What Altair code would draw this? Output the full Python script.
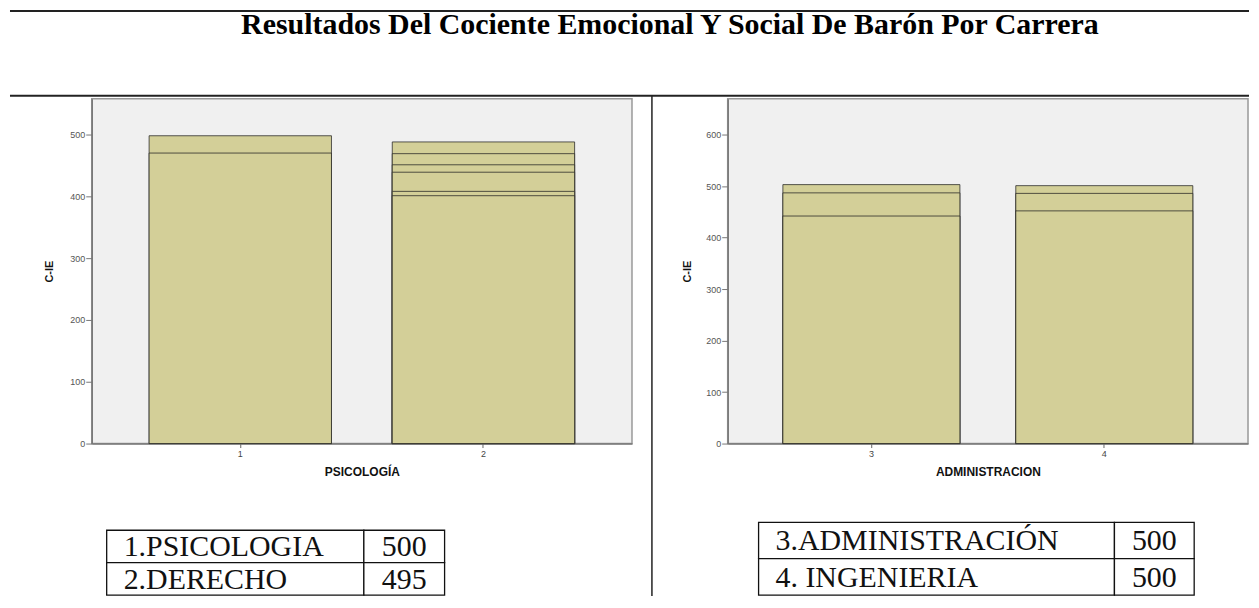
import altair as alt
import pandas as pd

# ---------------- data ----------------
titulo = "Resultados Del Cociente Emocional Y Social De Barón Por Carrera"
eje_y = "C-IE"

carreras_izq = ["1", "2"]
valores_izq = [[498, 470], [488, 469, 451, 439, 408, 401]]
titulo_x_izq = "PSICOLOGÍA"
ticks_izq = [0, 100, 200, 300, 400, 500]

carreras_der = ["3", "4"]
valores_der = [[503, 487, 442], [501, 486, 452]]
titulo_x_der = "ADMINISTRACION"
ticks_der = [0, 100, 200, 300, 400, 500, 600]

tabla_izq_nombres = ["1.PSICOLOGIA", "2.DERECHO"]
tabla_izq_valores = ["500", "495"]
tabla_der_nombres = ["3.ADMINISTRACIÓN", "4. INGENIERIA"]
tabla_der_valores = ["500", "500"]

# ---------------- style ----------------
FILL = "#d3cf98"
BG = "#f0f0f0"
SANS = "Liberation Sans"
SERIF = "Liberation Serif"
H = 346
W_IZQ = 542
W_DER = 522
TABLE_H = 81


def barras(cats, vals, dom, ticks, xtitle, width, title_x, pad_inner, pad_outer):
    rows = []
    for c, vs in zip(cats, vals):
        for v in sorted(vs, reverse=True):
            rows.append({"carrera": c, "cie": v})
    df = pd.DataFrame(rows)
    return alt.Chart(df).mark_bar(
        fill=FILL, stroke="#222", strokeOpacity=0.75, strokeWidth=1
    ).encode(
        x=alt.X(
            "carrera:N",
            sort=cats,
            scale=alt.Scale(paddingInner=pad_inner, paddingOuter=pad_outer),
            axis=alt.Axis(
                title=xtitle, labelAngle=0, labelFontSize=9, labelColor="#444",
                labelFont=SANS, tickSize=4, tickColor="#666", labelPadding=2,
                domainColor="#777", domainWidth=1.5,
                titleFont=SANS, titleFontSize=12, titleFontWeight="bold",
                titleColor="#111", titlePadding=8,
            ),
        ),
        y=alt.Y(
            "cie:Q",
            stack=None,
            scale=alt.Scale(domain=dom, nice=False, zero=True),
            axis=alt.Axis(
                values=ticks, title=eje_y, grid=False, labelFontSize=9,
                labelColor="#555", labelFont=SANS, tickSize=6, tickColor="#777",
                labelPadding=1, domainColor="#777", domainWidth=1.5,
                titleFont=SANS, titleFontSize=11, titleFontWeight="bold",
                titleColor="#111", titleX=title_x, titleY=H / 2,
                titleBaseline="middle", titleAngle=270,
            ),
        ),
    ).properties(width=width, height=H)


one = pd.DataFrame({"k": [0]})

barras_izq = barras(carreras_izq, valores_izq, [0, 558], ticks_izq, titulo_x_izq,
                    W_IZQ, -42, 0.25, 0.236)
barras_der = barras(carreras_der, valores_der, [0, 670], ticks_der, titulo_x_der,
                    W_DER, -40, 0.24, 0.237)

# decorations attached to the left panel (page lines and title)
linea_sup = alt.Chart(one).mark_rule(color="#222", strokeWidth=2).encode(
    x=alt.value(-82), x2=alt.value(1161), y=alt.value(-88))
linea_media = alt.Chart(one).mark_rule(color="#222", strokeWidth=2).encode(
    x=alt.value(-82), x2=alt.value(1161), y=alt.value(-3))
linea_vert = alt.Chart(one).mark_rule(color="#222", strokeWidth=1.5).encode(
    x=alt.value(562), y=alt.value(-3), y2=alt.value(499))
texto_titulo = alt.Chart(pd.DataFrame({"t": [titulo]})).mark_text(
    font=SERIF, fontWeight="bold", fontSize=30, align="center", baseline="alphabetic",
    color="#000"
).encode(text="t:N", x=alt.value(580), y=alt.value(-65))

panel_izq = alt.layer(barras_izq, linea_sup, linea_media, linea_vert, texto_titulo).properties(
    view=alt.ViewBackground(fill=BG, stroke="#999", strokeWidth=1.5))
panel_der = alt.layer(barras_der).properties(
    view=alt.ViewBackground(fill=BG, stroke="#999", strokeWidth=1.5))


def tabla(nombres, valores, width, y_range, x0, x1, x2, tx_nombre):
    df = pd.DataFrame({
        "fila": [str(i) for i in range(len(nombres))],
        "nombre": nombres,
        "valor": valores,
    })
    y = alt.Y("fila:N", axis=None,
              scale=alt.Scale(range=y_range, paddingInner=0, paddingOuter=0))
    base = alt.Chart(df)
    c1 = base.mark_rect(fill="white", stroke="#111", strokeWidth=1.3).encode(
        y=y, x=alt.value(x0), x2=alt.value(x1))
    c2 = base.mark_rect(fill="white", stroke="#111", strokeWidth=1.3).encode(
        y=y, x=alt.value(x1), x2=alt.value(x2))
    t1 = base.mark_text(font=SERIF, fontSize=30, align="left", baseline="middle",
                        color="#111", dy=1).encode(
        y=y, x=alt.value(tx_nombre), text="nombre:N")
    t2 = base.mark_text(font=SERIF, fontSize=30, align="center", baseline="middle",
                        color="#111", dy=1).encode(
        y=y, x=alt.value((x1 + x2) / 2), text="valor:N")
    return alt.layer(c1, c2, t1, t2).properties(
        width=width, height=TABLE_H,
        view=alt.ViewBackground(stroke=None, fill=None))


tabla_izq = tabla(tabla_izq_nombres, tabla_izq_valores, W_IZQ, [15, 80], 15, 273, 354, 32)
tabla_der = tabla(tabla_der_nombres, tabla_der_valores, W_DER, [7, 80], 31, 388, 468, 48)

chart = alt.concat(
    panel_izq, panel_der, tabla_izq, tabla_der,
    columns=2, bounds="flush", spacing={"row": 72, "column": 96},
).properties(
    padding={"left": 0, "top": 0, "right": 0, "bottom": 0},
    background="white",
).configure_view(stroke=None)

chart.save("out.html", embed_options={"renderer": "svg", "actions": False})
